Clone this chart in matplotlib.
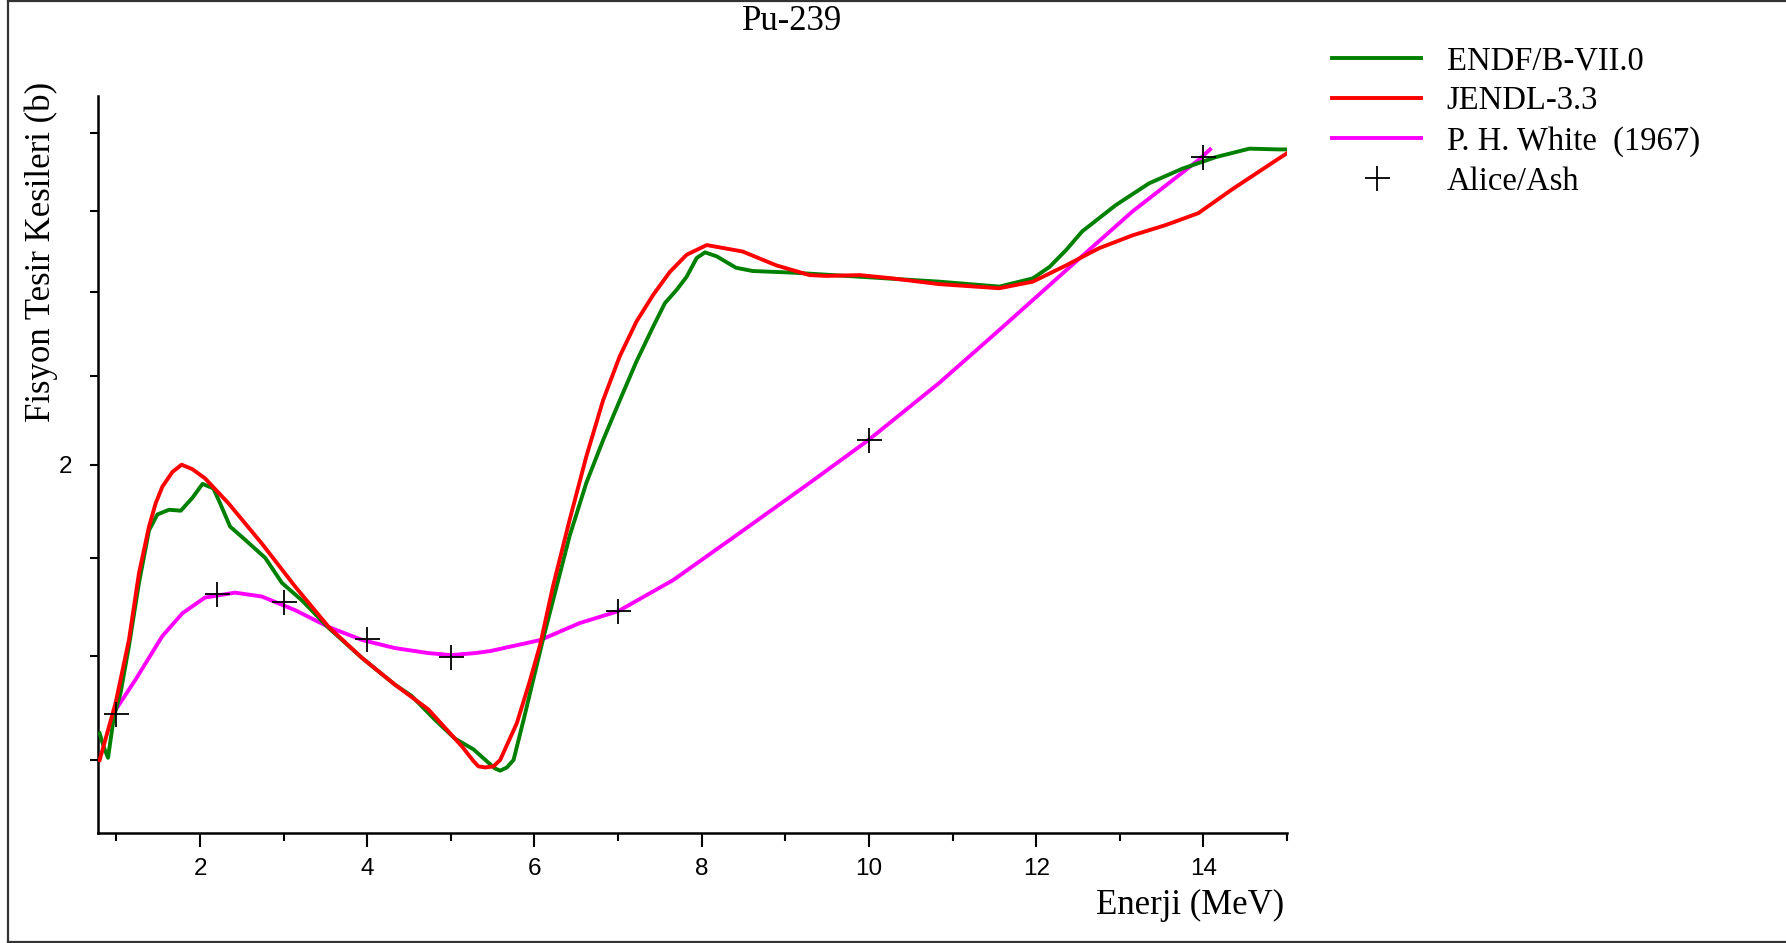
import matplotlib
matplotlib.use('Agg')
import matplotlib.pyplot as plt
from matplotlib.lines import Line2D
from matplotlib.font_manager import FontProperties

# ---------------- data ----------------
endf_x = [0.80, 0.85, 0.90, 0.97, 1.05, 1.15, 1.27, 1.39, 1.49, 1.63, 1.77, 1.91,
          2.03, 2.16, 2.24, 2.36, 2.54, 2.78, 2.98, 3.22, 3.54, 3.94, 4.33, 4.53,
          4.81, 5.05, 5.27, 5.47, 5.53, 5.59, 5.67, 5.75, 5.87, 6.10, 6.42, 6.62, 6.82, 7.02,
          7.22, 7.42, 7.56, 7.70, 7.82, 7.94, 8.04, 8.18, 8.41, 8.61, 9.09, 9.89,
          10.84, 11.56, 11.96, 12.16, 12.36, 12.55, 12.95, 13.35, 13.75, 14.15,
          14.55, 14.90, 15.00]
endf_y = [1.725, 1.712, 1.702, 1.741, 1.764, 1.810, 1.874, 1.929, 1.946, 1.951, 1.950, 1.964,
          1.979, 1.974, 1.958, 1.933, 1.919, 1.900, 1.874, 1.856, 1.828, 1.798, 1.772, 1.761,
          1.738, 1.720, 1.710, 1.696, 1.692, 1.690, 1.693, 1.700, 1.738, 1.816, 1.923, 1.980, 2.027, 2.072,
          2.117, 2.158, 2.186, 2.202, 2.218, 2.241, 2.248, 2.243, 2.229, 2.225, 2.223, 2.218,
          2.212, 2.206, 2.216, 2.230, 2.251, 2.274, 2.307, 2.335, 2.354, 2.369,
          2.380, 2.379, 2.379]

jendl_x = [0.80, 0.99, 1.15, 1.27, 1.39, 1.47, 1.55, 1.67, 1.78, 1.91, 2.06, 2.34, 2.74, 3.14, 3.54,
           3.94, 4.33, 4.73, 5.13, 5.27, 5.33, 5.41, 5.51, 5.59, 5.79, 5.95, 6.07, 6.22, 6.42,
           6.62, 6.82, 7.02, 7.22, 7.42, 7.62, 7.82, 8.06, 8.49, 8.89, 9.29,
           9.49, 9.89, 10.28, 10.84, 11.56, 11.96, 12.36, 12.75, 13.15, 13.55, 13.94,
           14.34, 14.90, 15.00]
jendl_y = [1.700, 1.754, 1.816, 1.884, 1.933, 1.958, 1.976, 1.992, 2.000, 1.995, 1.985, 1.958, 1.915, 1.870, 1.829,
           1.798, 1.772, 1.748, 1.713, 1.699, 1.694, 1.693, 1.694, 1.700, 1.735, 1.777, 1.812, 1.870, 1.940,
           2.009, 2.072, 2.123, 2.164, 2.196, 2.224, 2.245, 2.257, 2.249, 2.232, 2.220,
           2.219, 2.220, 2.216, 2.209, 2.204, 2.212, 2.232, 2.253, 2.269, 2.282, 2.297,
           2.327, 2.367, 2.374]

white_x = [0.97, 1.23, 1.55, 1.79, 2.06, 2.42, 2.74, 3.14, 3.54, 3.94, 4.33, 4.73,
           5.00, 5.29, 5.47, 6.07, 6.54, 7.00, 7.66, 8.45, 9.29, 9.99, 10.84, 11.56,
           12.36, 13.15, 13.94, 14.08]
white_y = [1.745, 1.777, 1.820, 1.843, 1.859, 1.864, 1.860, 1.846, 1.829, 1.816, 1.808, 1.803,
           1.801, 1.803, 1.805, 1.816, 1.833, 1.845, 1.877, 1.926, 1.980, 2.027, 2.092, 2.154,
           2.226, 2.299, 2.365, 2.379]

alice_x = [1, 2.2, 3, 4, 5, 7, 10, 14]
alice_y = [1.744, 1.863, 1.854, 1.817, 1.799, 1.845, 2.027, 2.369]

x_major = [2, 4, 6, 8, 10, 12, 14]
x_minor = [1, 3, 5, 7, 9, 11, 13, 15]
y_ticks = [1.7, 1.8, 1.9, 2.0, 2.1, 2.2, 2.3, 2.4]
y_ticklabels = ['', '', '', '2', '', '', '', '']

series_labels = ['ENDF/B-VII.0', 'JENDL-3.3', 'P. H. White  (1967)', 'Alice/Ash']

# ---------------- figure ----------------
W, H = 1786, 943
fig = plt.figure(figsize=(W / 100, H / 100), dpi=100)
ax = fig.add_axes([98 / W, 1 - 833 / H, (1287 - 98) / W, (833 - 96) / H])

serif = 'Liberation Serif'
sans = 'Liberation Sans'

lw = 2.8
l1, = ax.plot(endf_x, endf_y, color='#008000', lw=lw, zorder=3)
l2, = ax.plot(jendl_x, jendl_y, color='#ff0000', lw=lw, zorder=4)
l3, = ax.plot(white_x, white_y, color='#ff00ff', lw=lw, zorder=2)
l4, = ax.plot(alice_x, alice_y, ls='none', marker='+', color='black',
              ms=18, mew=1.3, zorder=5)

ax.set_yscale('log')
ax.set_xlim(0.78, 15.0)
ax.set_ylim(1.633, 2.45)

ax.set_yticks(y_ticks)
ax.set_yticklabels(y_ticklabels)
ax.yaxis.set_minor_locator(matplotlib.ticker.NullLocator())
ax.yaxis.set_minor_formatter(matplotlib.ticker.NullFormatter())

ax.set_xticks(x_major)
ax.set_xticklabels([str(v) for v in x_major])
ax.set_xticks(x_minor, minor=True)

for s in ['top', 'right']:
    ax.spines[s].set_visible(False)
for s in ['left', 'bottom']:
    ax.spines[s].set_linewidth(1.8)
    ax.spines[s].set_color('black')

ax.tick_params(axis='x', which='major', length=10, width=1.5, pad=8,
               labelsize=17.5, direction='out')
ax.tick_params(axis='x', which='minor', length=5.8, width=1.5, direction='out')
ax.tick_params(axis='y', which='major', length=5.8, width=1.5, pad=13,
               labelsize=17.5, direction='out')
for lab in ax.get_xticklabels() + ax.get_yticklabels():
    lab.set_fontfamily(sans)

# texts
fig.text(792 / W, 1 - 21 / H, 'Pu-239', ha='center', va='center',
         family=serif, fontsize=25)
fig.text(1284 / W, 1 - 905 / H, 'Enerji (MeV)', ha='right', va='center',
         family=serif, fontsize=25)
fig.text(41 / W, 1 - 252 / H, 'Fisyon Tesir Kesileri (b)', ha='center', va='center',
         rotation=90, family=serif, fontsize=25)

# legend
fig.legend([l1, l2, l3, l4], series_labels, loc='upper left',
           bbox_to_anchor=(1332 / W, 1 - 46 / H), frameon=False,
           borderpad=0, borderaxespad=0, handlelength=2.73, handletextpad=0.78,
           labelspacing=0.29, numpoints=1,
           prop=FontProperties(family=serif, size=23.5))

# figure border
bc = '#333333'
fig.add_artist(Line2D([8 / W, 8 / W], [1 - 1 / H, 1 - 942 / H],
                      transform=fig.transFigure, color=bc, lw=1.6))
fig.add_artist(Line2D([8 / W, 1.0], [1 - 1 / H, 1 - 1 / H],
                      transform=fig.transFigure, color=bc, lw=1.6))
fig.add_artist(Line2D([8 / W, 1.0], [1 - 942 / H, 1 - 942 / H],
                      transform=fig.transFigure, color=bc, lw=1.6))

fig.savefig('out.png', dpi=100)
